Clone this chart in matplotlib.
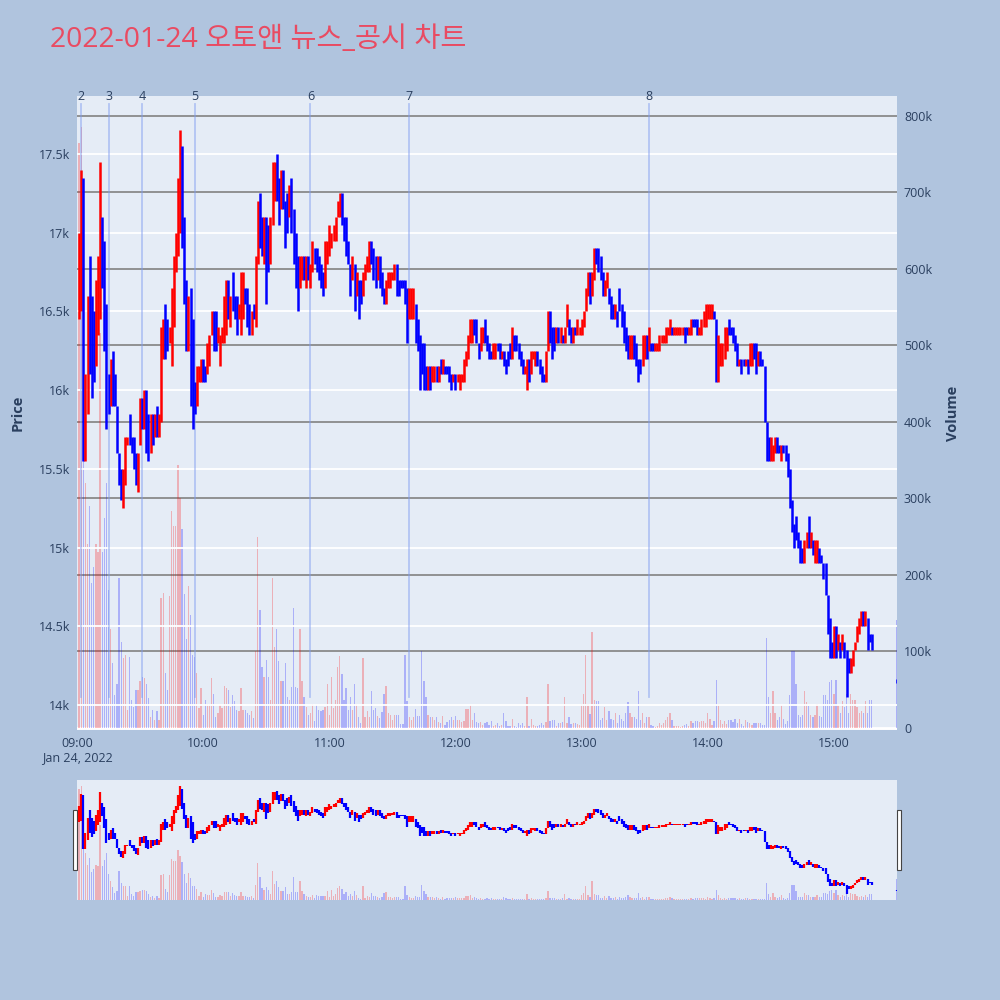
import numpy as np
import matplotlib.pyplot as plt
from matplotlib.patches import Rectangle

plt.rcParams['font.family'] = ['Open Sans', 'Noto Sans CJK KR', 'DejaVu Sans']

# ---- data ----
# one candle per minute from 09:01 to 15:18, then the 15:30 closing auction
first_minute = "09:01"
auction_time = "15:30"

# candle low / high (KRW) per minute
lows = [
    # 09:01 - 10:10
    16450, 16500, 15550, 15550, 15850, 16100, 15950, 16050, 16150, 16350,
    16450, 16650, 16250, 15750, 15850, 15900, 15900, 15900, 15600, 15400,
    15300, 15250, 15400, 15650, 15650, 15600, 15500, 15400, 15350, 15650,
    15750, 15750, 15600, 15550, 15600, 15650, 15700, 15700, 15700, 15800,
    16200, 16200, 16250, 16300, 16150, 16400, 16750, 16850, 17000, 16900,
    16550, 16250, 16250, 15900, 15750, 15850, 15900, 16050, 16050, 16050,
    16050, 16100, 16150, 16350, 16250, 16250, 16300, 16150, 16300, 16300,
    # 10:11 - 11:43
    16350, 16450, 16400, 16500, 16450, 16350, 16450, 16350, 16450, 16550,
    16400, 16350, 16350, 16450, 16400, 16800, 16900, 16850, 16800, 16550,
    16750, 16800, 17050, 17200, 17200, 17050, 17150, 17150, 16900, 17000,
    17100, 17000, 16800, 16650, 16500, 16650, 16700, 16700, 16650, 16700,
    16650, 16750, 16800, 16750, 16700, 16650, 16600, 16650, 16800, 16850,
    16900, 16950, 16950, 17100, 17100, 17050, 16950, 16850, 16800, 16600,
    16700, 16500, 16600, 16450, 16550, 16600, 16700, 16750, 16750, 16800,
    16700, 16650, 16700, 16650, 16600, 16550, 16550, 16650, 16650, 16700,
    16700, 16600, 16600, 16650, 16650, 16550, 16300, 16450, 16450, 16450,
    16300, 16250, 16000,
    # 11:44 - 13:17
    16100, 16000, 16000, 16000, 16000, 16050, 16050, 16050, 16050, 16100,
    16100, 16100, 16100, 16050, 16000, 16050, 16000, 16050, 16000, 16050,
    16050, 16150, 16200, 16300, 16300, 16350, 16300, 16200, 16250, 16300,
    16300, 16250, 16200, 16200, 16200, 16200, 16250, 16200, 16200, 16150,
    16100, 16150, 16200, 16200, 16250, 16250, 16200, 16150, 16100, 16100,
    16000, 16050, 16100, 16200, 16150, 16150, 16100, 16050, 16050, 16050,
    16250, 16300, 16200, 16250, 16300, 16300, 16300, 16300, 16300, 16400,
    16350, 16300, 16300, 16350, 16350, 16350, 16350, 16400, 16500, 16600,
    16550, 16600, 16700, 16800, 16750, 16700, 16600, 16600, 16650, 16550,
    16450, 16450, 16450, 16400,
    # 13:18 - 14:19
    16500, 16400, 16300, 16250, 16200, 16200, 16200, 16200, 16150, 16050,
    16100, 16150, 16200, 16200, 16250, 16250, 16250, 16250, 16250, 16250,
    16300, 16300, 16300, 16350, 16350, 16350, 16350, 16350, 16350, 16350,
    16350, 16300, 16350, 16350, 16350, 16400, 16400, 16350, 16350, 16350,
    16400, 16400, 16450, 16450, 16450, 16450, 16050, 16050, 16150, 16150,
    16200, 16250, 16350, 16350, 16300, 16250, 16150, 16150, 16100, 16150,
    16150, 16100,
    # 14:20 - 15:18
    16150, 16150, 16200, 16100, 16150, 16150, 16150, 15800, 15550, 15550,
    15550, 15550, 15600, 15600, 15600, 15550, 15600, 15550, 15450, 15250,
    15100, 15000, 15050, 15000, 14900, 14900, 14900, 15000, 15000, 15000,
    14950, 14900, 14900, 14900, 14900, 14800, 14700, 14450, 14300, 14300,
    14300, 14300, 14350, 14300, 14350, 14300, 14050, 14200, 14200, 14250,
    14350, 14400, 14450, 14500, 14500, 14500, 14350, 14400, 14350,
]
highs = [
    17000, 17400, 17350, 16100, 16600, 16850, 16600, 16500, 16700, 16850,
    17450, 17100, 16950, 16550, 16100, 16200, 16250, 16100, 15900, 15600,
    15500, 15500, 15700, 15700, 15850, 15700, 15700, 15600, 15600, 15950,
    15950, 16000, 16000, 15850, 15850, 15850, 15850, 15900, 15850, 16400,
    16450, 16550, 16450, 16400, 16650, 16850, 17000, 17350, 17650, 17550,
    17100, 16700, 16600, 16650, 16450, 16050, 16150, 16150, 16200, 16200,
    16150, 16300, 16350, 16500, 16500, 16500, 16400, 16350, 16400, 16600,
    16700, 16700, 16600, 16750, 16600, 16600, 16550, 16750, 16750, 16650,
    16650, 16550, 16500, 16550, 16850, 17200, 17250, 17100, 17100, 17100,
    17050, 17100, 17450, 17450, 17500, 17350, 17400, 17400, 17200, 17250,
    17300, 17350, 17150, 17000, 16850, 16850, 16850, 16850, 16850, 16850,
    16800, 16950, 16900, 16900, 16850, 16800, 16750, 16950, 16950, 17050,
    17000, 17050, 17100, 17200, 17250, 17250, 17100, 17100, 16950, 16800,
    16850, 16800, 16750, 16700, 16700, 16750, 16800, 16850, 16950, 16950,
    16900, 16850, 16850, 16850, 16750, 16650, 16700, 16750, 16750, 16750,
    16800, 16800, 16700, 16700, 16700, 16700, 16650, 16650, 16650, 16650,
    16550, 16450, 16350,
    16300, 16300, 16150, 16150, 16150, 16150, 16150, 16150, 16150, 16200,
    16200, 16150, 16150, 16150, 16100, 16100, 16100, 16100, 16100, 16100,
    16200, 16250, 16350, 16450, 16450, 16450, 16450, 16300, 16400, 16400,
    16450, 16350, 16300, 16250, 16300, 16300, 16300, 16300, 16250, 16250,
    16200, 16250, 16300, 16400, 16350, 16350, 16300, 16250, 16200, 16150,
    16200, 16200, 16250, 16250, 16250, 16250, 16200, 16150, 16100, 16250,
    16500, 16500, 16400, 16400, 16400, 16400, 16400, 16350, 16400, 16550,
    16450, 16400, 16400, 16400, 16450, 16400, 16450, 16500, 16650, 16750,
    16750, 16750, 16900, 16900, 16900, 16850, 16750, 16700, 16750, 16650,
    16600, 16550, 16550, 16500,
    16650, 16550, 16500, 16400, 16350, 16350, 16350, 16350, 16300, 16200,
    16200, 16350, 16350, 16350, 16400, 16300, 16300, 16300, 16300, 16350,
    16350, 16350, 16400, 16400, 16450, 16400, 16400, 16400, 16400, 16400,
    16400, 16400, 16400, 16400, 16450, 16450, 16450, 16450, 16400, 16450,
    16500, 16550, 16550, 16550, 16550, 16500, 16450, 16350, 16300, 16300,
    16400, 16400, 16450, 16400, 16400, 16350, 16300, 16200, 16200, 16200,
    16200, 16200,
    16300, 16300, 16300, 16300, 16250, 16250, 16200, 16150, 15800, 15700,
    15700, 15650, 15700, 15700, 15650, 15650, 15650, 15650, 15600, 15500,
    15300, 15150, 15200, 15100, 15050, 15000, 15050, 15100, 15200, 15100,
    15050, 15050, 15050, 15000, 14950, 14900, 14900, 14700, 14550, 14400,
    14500, 14500, 14450, 14400, 14450, 14400, 14350, 14300, 14300, 14350,
    14400, 14500, 14550, 14600, 14600, 14600, 14550, 14450, 14450,
]
# r = rising (red), b = falling (blue)
dirs = (
    "rrbrrbbbrr" "rbbbbrbbbb" "brrrbbbbrr" "brbbrbrbrr" "rbbrrrrrrb" "bbrbbbrrrb" "brrrbbrrrr"
    "rbrbbbrrrb" "bbrbrrbbrb" "brrrbbrbbb" "rbbbbrrbrb" "rrbbbbbrrr" "rrrrrbbbbb" "rbrbbrrrrb"
    "bbrbbbrrrr" "rbbbbbbrrr" "bbb"
    "bbbrbrrbrb" "rbbbbrbrrr" "rrrrrbbbrr" "bbbbrrbbrb" "bbbrbbbbbr" "rbrrrbbbbr" "rbbbrbrbrr"
    "bbrbrrrrrr" "brrbbbbrrb" "bbrb"
    "bbbbbrrbbb" "brrbrbbrrr" "rrrrrbrrrr" "rbbrrbbbrr" "rrrrrbbrrr" "rrbbbbbrbb" "rb"
    "rrbbrbbbbb" "rrrbbrbbbb" "bbbbbbrrbr" "brrbbbbbbb" "rbrbrbbbrr" "rrrrbrbbb"
)
# traded volume per minute, thousands of shares
volumes = [
    765, 786, 450, 320, 240, 290, 190, 210, 240, 230, 516, 230, 275, 320, 180, 130, 85, 43, 58, 196,
    112, 91, 95, 24, 93, 37, 28, 50, 50, 62, 67, 66, 58, 39, 15, 24, 11, 22, 11, 170,
    177, 72, 50, 172, 283, 264, 264, 344, 300, 260, 175, 116, 186, 148, 95, 93, 72, 26, 52, 17,
    37, 32, 32, 66, 45, 15, 20, 30, 26, 55, 52, 50, 28, 43, 35, 24, 22, 52, 24, 24,
    20, 17, 22, 13, 100, 250, 154, 80, 67, 89, 67, 37, 196, 106, 130, 87, 62, 62, 85, 41,
    37, 54, 157, 54, 52, 130, 62, 41, 28, 17, 20, 32, 9, 30, 24, 22, 24, 28, 58, 17,
    67, 26, 37, 80, 94, 70, 37, 52, 24, 41, 24, 58, 32,
    14, 7, 92, 14, 22, 15, 48, 24, 26, 16, 13, 21, 44, 55, 20, 17, 10, 17, 17, 17,
    5, 5, 95, 35, 15, 11, 14, 25, 16, 16, 100, 62, 41, 17, 15, 15, 11, 15, 8, 7,
    16, 4, 8, 10, 14, 10, 16, 11, 10, 8, 9, 25, 25, 30, 11, 19, 8, 7, 8, 4,
    7, 8, 4, 9, 3, 4, 6, 3, 4, 19, 9, 2, 2, 12, 3, 1, 6, 4, 6, 3,
    41, 3, 12, 4, 3, 3, 4, 6, 4, 8, 58, 9, 10, 10, 3, 6, 6, 8, 41, 6,
    14, 5, 7, 6, 5, 4, 31, 44, 96, 32, 18, 126, 37, 35, 35, 11, 13, 27, 11, 22,
    12, 10, 20, 6, 17, 12, 9, 19, 34, 20, 14, 14, 12, 48,
    11, 19, 7, 15, 15, 4, 2, 1, 2, 6, 4, 6, 11, 14, 20, 11, 3, 2, 3, 1,
    2, 4, 5, 3, 9, 6, 9, 9, 8, 9, 9, 6, 19, 12, 4, 9, 63, 32, 11, 5,
    9, 5, 11, 11, 8, 12, 6, 12, 5, 3, 11, 8, 6, 4, 6, 6, 6, 6, 4, 4,
    118, 41, 19, 49, 19, 11, 15, 30, 12, 5, 9, 43, 100, 100, 58, 17, 15, 17, 49, 34,
    29, 17, 15, 17, 32, 16, 15, 43, 43, 37, 60, 63, 45, 63, 30, 19, 35, 28, 45, 20,
    45, 37, 37, 28, 19, 22, 19, 35, 20, 37, 36,
]
auction_price = 14150
auction_dir = "b"
auction_volume = 141

news_ids = ["2", "3", "4", "5", "6", "7", "8"]
news_times = ["09:02", "09:15", "09:31", "09:56", "10:51", "11:38", "13:32"]

hour_labels = ["09:00", "10:00", "11:00", "12:00", "13:00", "14:00", "15:00"]
price_ticks = [14000, 14500, 15000, 15500, 16000, 16500, 17000, 17500]
volume_ticks = [0, 100, 200, 300, 400, 500, 600, 700, 800]


def to_min(t):
    h, m = t.split(":")
    return (int(h) - 9) * 60 + int(m)


t0 = to_min(first_minute)
x = [t0 + i for i in range(len(lows))] + [to_min(auction_time)]
lo = np.array(lows + [auction_price], dtype=float)
hi = np.array(highs + [auction_price], dtype=float)
dd = dirs + auction_dir
vol = np.array(volumes + [auction_volume], dtype=float)

# give flat candles a tiny visible height
flat = (hi - lo) < 30
lo_d = np.where(flat, lo - 12, lo)
hi_d = np.where(flat, hi + 12, hi)

UP, DOWN = "#FF0000", "#0000FF"
cols = [UP if d == "r" else DOWN for d in dd]
vcols = [(1, 0, 0, 0.25) if d == "r" else (0, 0, 1, 0.25) for d in dd]

BG = "#B0C4DE"
PLOT_BG = "#E5ECF6"
TXT = "#2a3f5f"
PRICE_LIM = (13841, 17868)
VOL_LIM = (-2.6, 826)
XLIM = (0, 390)

fig = plt.figure(figsize=(10, 10), dpi=100, facecolor=BG)

# volume axis at the back, price axis on top of it
axv = fig.add_axes([0.077, 0.270, 0.820, 0.634])
ax = axv.twinx()
axv.yaxis.tick_right()
axv.yaxis.set_label_position("right")
ax.yaxis.tick_left()
ax.yaxis.set_label_position("left")
ax.set_zorder(axv.get_zorder() + 1)
ax.patch.set_visible(False)
axv.set_facecolor(PLOT_BG)

for a in (ax, axv):
    for s in a.spines.values():
        s.set_visible(False)
    a.set_xlim(*XLIM)

# grids
for v in volume_ticks[1:]:
    axv.axhline(v, color="#8a8a8a", lw=1.3, zorder=0)
axv.axhline(0, color="white", lw=2, zorder=0)
for p in price_ticks:
    ax.axhline(p, color="white", lw=1.3, zorder=0)

axv.bar(x, vol, width=0.6, color=vcols, zorder=1)
axv.set_ylim(*VOL_LIM)
axv.set_yticks(volume_ticks)
axv.set_yticklabels(["0" if v == 0 else f"{v}k" for v in volume_ticks])
axv.tick_params(axis="y", length=0, pad=5, labelsize=9, labelcolor=TXT)
axv.set_ylabel("Volume", fontsize=10.5, fontweight="bold", color=TXT, labelpad=10)

axv.set_xticks([to_min(h) for h in hour_labels])
axv.set_xticklabels(hour_labels)
axv.tick_params(axis="x", length=0, pad=5, labelsize=9, labelcolor=TXT, labelbottom=True)
fig.text(0.077, 1 - 0.758, "Jan 24, 2022", ha="center", va="center", fontsize=9, color=TXT)

# news markers
for nid, nt in zip(news_ids, news_times):
    m = to_min(nt)
    ax.axvline(m, ymin=0.052, ymax=0.987, color="#7f9cf0", alpha=0.5, lw=1.3, zorder=1)
    ax.text(m, 1.0, nid, transform=ax.get_xaxis_transform(), ha="center", va="center",
            fontsize=9, color=TXT, zorder=5)

ax.vlines(x, lo_d, hi_d, colors=cols, lw=1.8, zorder=3)
ax.set_ylim(*PRICE_LIM)
ax.set_yticks(price_ticks)
ax.set_yticklabels([f"{p / 1000:g}k" for p in price_ticks])
ax.tick_params(axis="y", length=0, pad=5, labelsize=9, labelcolor=TXT)
ax.set_ylabel("Price", fontsize=10.5, fontweight="bold", color=TXT, labelpad=10)

# range slider
sv = fig.add_axes([0.077, 0.100, 0.820, 0.120])
sp = sv.twinx()
sp.set_zorder(sv.get_zorder() + 1)
sp.patch.set_visible(False)
sv.set_facecolor(PLOT_BG)
for a in (sv, sp):
    for s in a.spines.values():
        s.set_visible(False)
    a.set_xlim(*XLIM)
    a.set_xticks([])
    a.set_yticks([])
sv.bar(x, vol, width=0.6, color=vcols)
sv.set_ylim(*VOL_LIM)
sp.vlines(x, lo_d, hi_d, colors=cols, lw=1.6)
sp.set_ylim(*PRICE_LIM)
for hx in (0.073, 0.897):
    fig.add_artist(Rectangle((hx, 0.130), 0.004, 0.060, transform=fig.transFigure,
                             facecolor="white", edgecolor="#444444", lw=0.8))

fig.text(0.050, 0.960, "2022-01-24 오토앤 뉴스_공시 차트", ha="left", va="center",
         fontsize=20.4, color="#E94B62")

fig.savefig("out.png", dpi=100, facecolor=BG)
